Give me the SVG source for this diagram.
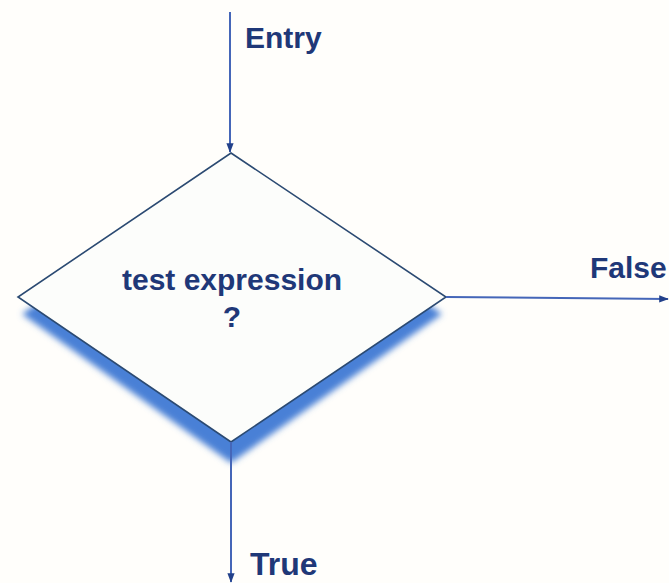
<svg xmlns="http://www.w3.org/2000/svg" width="669" height="583" viewBox="0 0 669 583">
<style>
.ln{stroke:#4566b8;stroke-width:2;fill:none}
.tx{font-family:"Liberation Sans",Arial,sans-serif;fill:#1f3878;font-weight:bold}
</style>
<defs>
<marker id="ah" viewBox="0 0 12 10" refX="11" refY="5" markerWidth="6" markerHeight="4" orient="auto" markerUnits="strokeWidth">
<path d="M0,0.5 L12,5 L0,9.5 Z" fill="#22408a"/>
</marker>
<filter id="bl" x="-10%" y="-10%" width="120%" height="120%"><feGaussianBlur stdDeviation="3"/></filter>
</defs>
<rect width="669" height="583" fill="#fffefb"/>
<g id="decision">
<polygon points="232,170 442,314 231,463 22,314" fill="#4880d6" filter="url(#bl)"/>
<polygon points="231,153 446,297 231,442 18,297" fill="#fcfdfb" stroke="#2b4a72" stroke-width="1.6"/>
<text class="tx" x="232" y="290" font-size="30" text-anchor="middle">test expression</text>
<text class="tx" x="232" y="327" font-size="30" text-anchor="middle">?</text>
</g>
<g id="connectors">
<line class="ln" x1="230" y1="12" x2="230" y2="152" marker-end="url(#ah)"/>
<line class="ln" x1="446" y1="297" x2="668" y2="299" marker-end="url(#ah)"/>
<line class="ln" x1="231" y1="442" x2="231" y2="582" marker-end="url(#ah)"/>
</g>
<g id="labels">
<text class="tx" x="245" y="48" font-size="30">Entry</text>
<text class="tx" x="590" y="278" font-size="30">False</text>
<text class="tx" x="250" y="575" font-size="32">True</text>
</g>
</svg>
